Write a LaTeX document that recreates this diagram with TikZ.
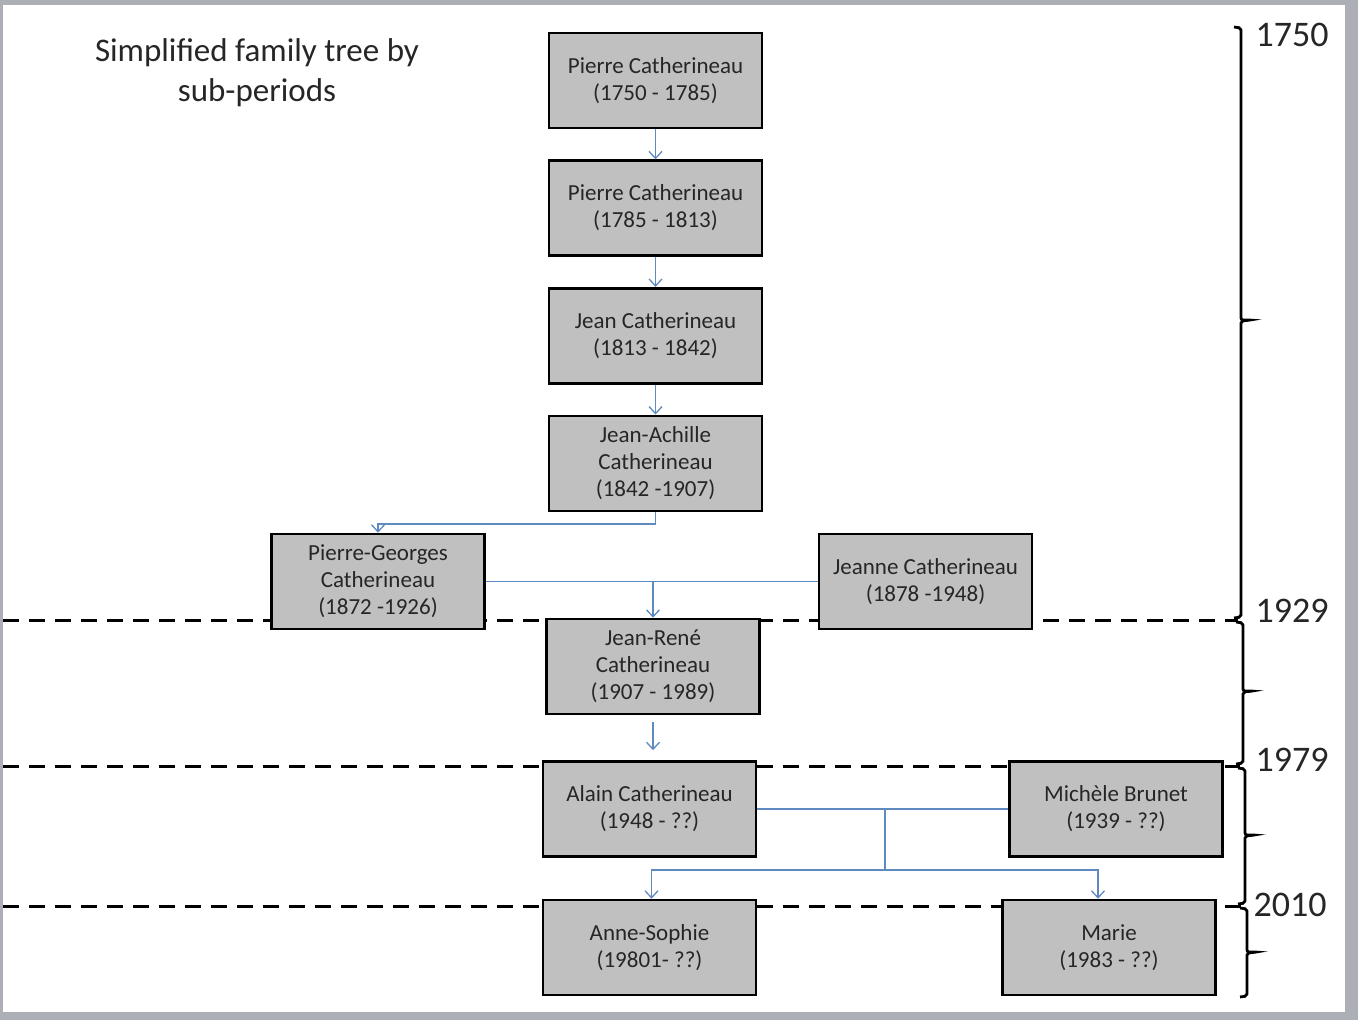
\documentclass[tikz,border=0pt]{standalone}
\usepackage{fontspec}
\setmainfont{Carlito}
\usetikzlibrary{positioning,decorations.pathreplacing,arrows.meta}

\definecolor{boxgray}{RGB}{192,192,192}
\definecolor{linkblue}{RGB}{95,138,192}
\definecolor{framegray}{RGB}{172,176,182}

\begin{document}
\begin{tikzpicture}[x=1pt,y=-1pt,node distance=30pt and 0pt,
		person/.style={draw, line width=2.6pt, fill=boxgray, minimum width=213pt, minimum height=95pt, align=center, text=black!85, font=\fontsize{23}{27}\selectfont},
		link/.style={draw=linkblue, line width=1.3pt},
		kid/.style={link, -{Straight Barb[length=7pt,width=13pt]}},
		period/.style={dash pattern=on 16pt off 10pt, line width=3pt},
		bracket/.style={line width=2.8pt, rounded corners=2pt},
		year/.style={anchor=west, text=black!85, font=\fontsize{36}{36}\selectfont}]
		\useasboundingbox (0,0) rectangle (1358,1020);
		\fill[framegray] (0,0) rectangle (1358,1020);
		\fill[white] (3,5) rectangle (1345,1012);

		% period limits
		\draw[period] (3,620) -- (1238,620);
		\draw[period] (3,766) -- (1240,766);
		\draw[period] (3,906) -- (1242,906);

		\node[font=\fontsize{33}{40}\selectfont, text=black!85, align=center] (title) at (257,73) {Simplified family tree by\\sub-periods};

		\node[person] (pc1) at (655.5,80.5) {Pierre Catherineau\\(1750 - 1785)};
		\node[person, below=of {pc1}] (pc2) {Pierre Catherineau\\(1785 - 1813)};
		\node[person, below=of {pc2}] (jean) {Jean Catherineau\\(1813 - 1842)};
		\node[person, below=of {jean}] (jach) {Jean-Achille\\Catherineau\\(1842 -1907)};

		\node[person] (pgeo) at (378,581.5) {Pierre-Georges\\Catherineau\\(1872 -1926)};
		\node[person] (jeanne) at (925.5,581.5) {Jeanne Catherineau\\(1878 -1948)};
		\node[person] (jrene) at (653,666.5) {Jean-René\\Catherineau\\(1907 - 1989)};

		\node[person] (alain) at (649.5,809) {Alain Catherineau\\(1948 - ??)};
		\node[person] (michele) at (1116,809) {Michèle Brunet\\(1939 - ??)};
		\node[person] (anne) at (649.5,947.5) {Anne-Sophie\\(19801- ??)};
		\node[person] (marie) at (1109,947.5) {Marie\\(1983 - ??)};

		\draw[kid] (pc1) -- (pc2);
		\draw[kid] (pc2) -- (jean);
		\draw[kid] (jean) -- (jach);
		\draw[kid] (jach.south) -- ++(0,12) -| (pgeo.north);

		\draw[link] (pgeo.east) -- (jeanne.west);
		\draw[kid] (pgeo.east -| jrene.north) -- (jrene.north);
		\draw[kid, shorten <=7pt, shorten >=10pt] (jrene.south) -- (jrene.south |- alain.north);

		\coordinate (fork) at (885,809);
		\coordinate (split) at (885,870);
		\draw[link] (alain.east) -- (michele.west);
		\draw[link] (fork) -- (split);
		\draw[kid] (split) -| ([xshift=2pt]anne.north);
		\draw[kid] (split) -| ([xshift=-11pt]marie.north);

		% time scale
		\draw[bracket] (1234,27) -- (1241,28) -- (1241,320) -- (1251,320) -- (1241,321) -- (1241,617) -- (1234,618);
		\draw[bracket] (1236,622) -- (1243,623) -- (1243,691) -- (1253,691) -- (1243,692) -- (1243,763) -- (1236,764);
		\draw[bracket] (1238,768) -- (1245,769) -- (1245,835) -- (1255,835) -- (1245,836) -- (1245,903) -- (1238,904);
		\draw[bracket] (1240,908) -- (1247,909) -- (1247,952) -- (1257,952) -- (1247,953) -- (1247,996) -- (1240,997);
		\node[year] (y1750) at (1252,35) {1750};
		\node[year] (y1929) at (1252,611) {1929};
		\node[year] (y1979) at (1252,760) {1979};
		\node[year] (y2010) at (1250,905) {2010};
	\end{tikzpicture}
\end{document}
